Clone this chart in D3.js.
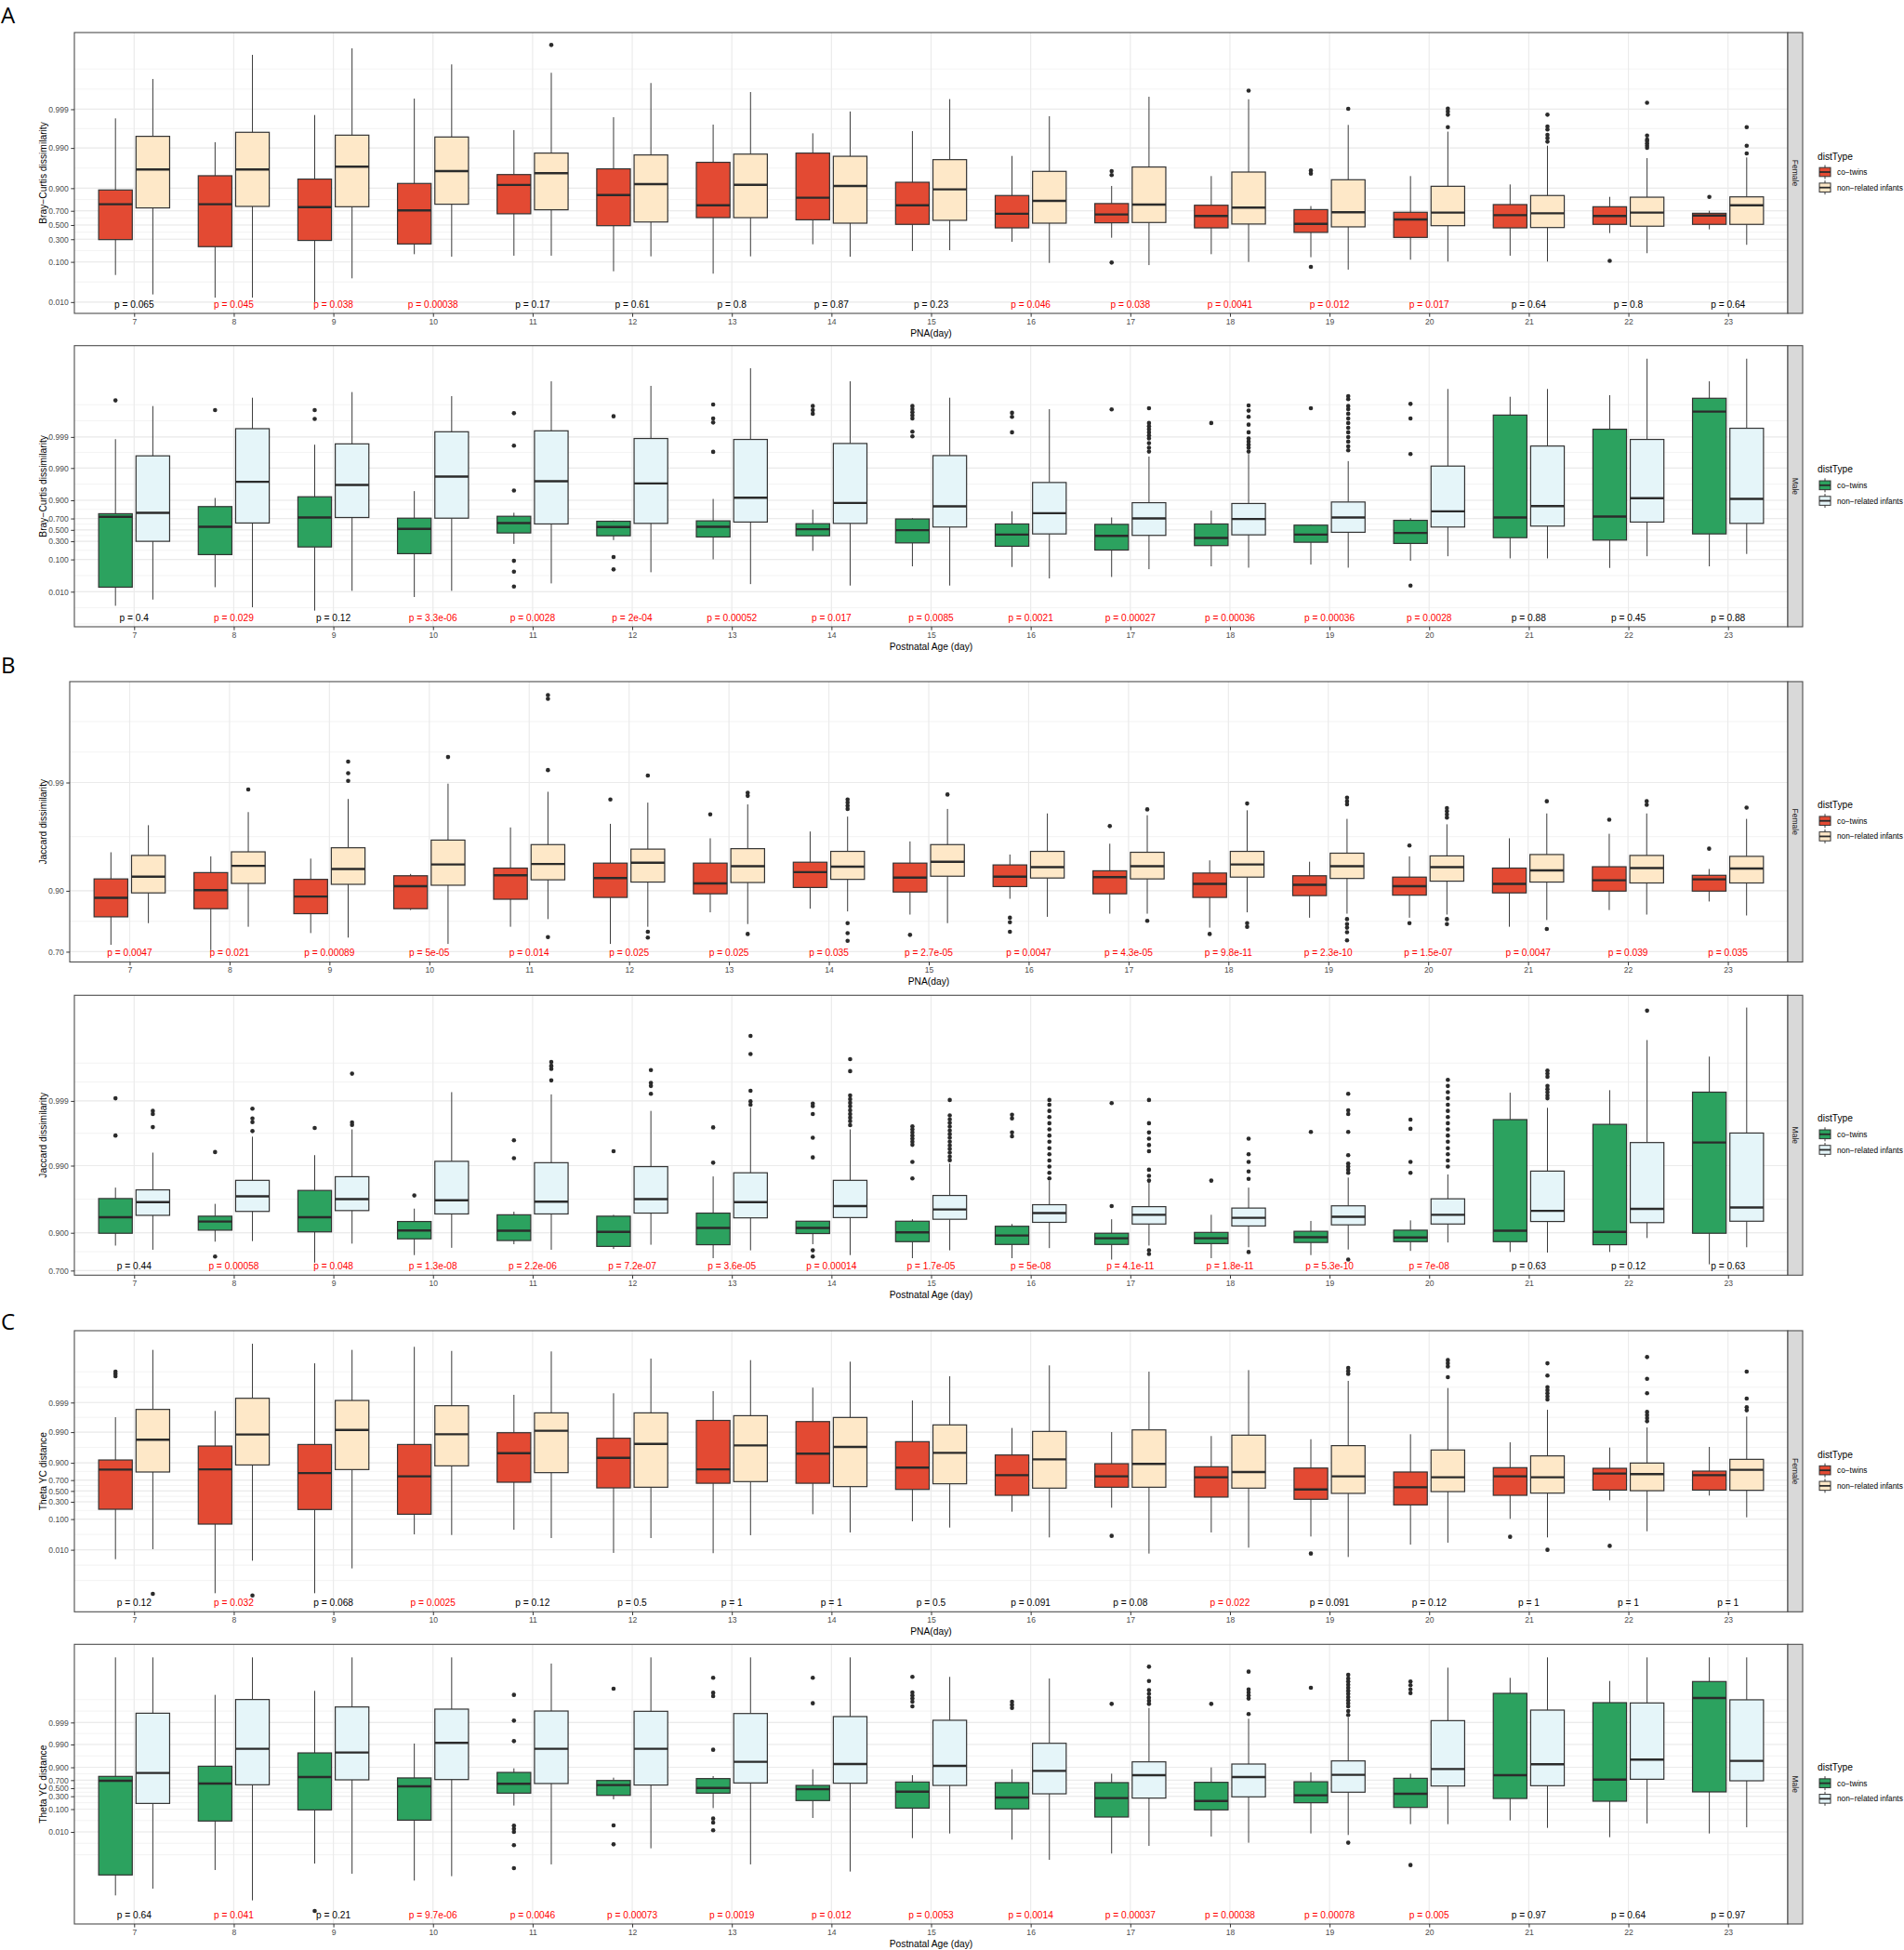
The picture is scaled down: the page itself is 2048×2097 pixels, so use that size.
<!DOCTYPE html>
<html><head><meta charset="utf-8">
<script src="https://cdn.jsdelivr.net/npm/d3@7"></script>
<style>body{margin:0;background:#fff}</style>
</head><body><svg id="c" width="2048" height="2097"></svg>
<script>
// ---------- data (box statistics in logit units: [lowerWhisker, Q1, median, Q3, upperWhisker]) ----------
const days = [7,8,9,10,11,12,13,14,15,16,17,18,19,20,21,22,23];
const groupLabels = ["co\u2212twins", "non\u2212related infants"];
const ticksWide = [0.01,0.1,0.3,0.5,0.7,0.9,0.99,0.999];
const tickLabelsWide = ["0.010","0.100","0.300","0.500","0.700","0.900","0.990","0.999"];
const ticksJacF = [0.7,0.9,0.99];
const tickLabelsJacF = ["0.70","0.90","0.99"];
const ticksJacM = [0.7,0.9,0.99,0.999];
const tickLabelsJacM = ["0.700","0.900","0.990","0.999"];

// A  Bray-Curtis, Female
const brayF_twins = [[-2.98,-0.87,1.24,2.09,6.36],[-4.33,-1.29,1.24,2.94,4.94],[-4.60,-0.92,1.07,2.74,6.56],[-1.74,-1.13,0.87,2.48,7.54],[-1.83,0.67,2.39,3.01,5.66],[-2.76,-0.04,1.79,3.35,6.43],[-2.90,0.44,1.18,3.74,5.99],[-1.15,0.31,1.63,4.29,5.47],[-1.55,0.04,1.18,2.55,5.60],[-1.00,-0.17,0.67,1.76,4.12],[-0.76,0.13,0.63,1.28,2.33],[-1.74,-0.17,0.54,1.18,2.92],[-1.92,-0.44,0.07,0.92,1.13],[-2.07,-0.74,0.33,0.76,2.92],[-1.83,-0.17,0.59,1.22,2.42],[-0.48,0.04,0.54,1.09,1.68],[-0.26,0.04,0.57,0.70,0.85]];
const brayF_twinsOut = [[],[],[],[],[],[],[],[],[],[],[3.22,2.98,-2.24],[],[3.25,3.07,-2.50],[],[],[-2.14],[1.68]];
const brayF_nonrel = [[-4.14,1.02,3.31,5.29,8.71],[-4.33,1.11,3.31,5.53,10.15],[-3.18,1.09,3.48,5.36,10.54],[-1.89,1.24,3.22,5.25,9.58],[-1.83,0.91,3.09,4.29,9.08],[-1.87,0.18,2.44,4.18,8.47],[-1.87,0.44,2.40,4.23,7.93],[-1.89,0.11,2.33,4.10,6.77],[-1.50,0.28,2.13,3.90,7.51],[-2.26,0.11,1.44,3.20,6.49],[-2.39,0.15,1.22,3.46,7.65],[-2.20,0.06,1.04,3.16,7.50],[-2.66,-0.11,0.76,2.70,5.97],[-2.18,-0.04,0.74,2.31,5.57],[-2.18,-0.15,0.70,1.76,4.73],[-1.68,-0.07,0.74,1.66,3.99],[-1.18,0.04,1.18,1.68,4.03]];
const brayF_nonrelOut = [[],[],[],[],[10.74],[],[],[],[],[],[],[8.01],[6.93],[6.95,6.77,6.58,5.84],[6.58,5.88,5.70,5.38,5.18,4.97],[7.29,5.34,5.10,5.01,4.87,4.73,4.60],[5.84,4.73,4.27]];
const brayF_p = ["0.065","0.045","0.038","0.00038","0.17","0.61","0.8","0.87","0.23","0.046","0.038","0.0041","0.012","0.017","0.64","0.8","0.64"];

// A  Bray-Curtis, Male
const brayM_twins = [[-5.64,-4.26,0.97,1.20,6.74],[-4.26,-1.84,0.23,1.73,2.37],[-6.00,-1.27,0.92,2.46,6.33],[-4.99,-1.77,0.07,0.87,2.88],[-1.04,-0.23,0.51,1.01,1.27],[-0.76,-0.44,0.21,0.64,0.69],[-2.19,-0.53,0.23,0.67,2.30],[-1.56,-0.44,0.05,0.46,1.50],[-2.71,-0.97,-0.02,0.81,0.87],[-2.76,-1.22,-0.35,0.44,1.38],[-3.50,-1.50,-0.44,0.41,0.92],[-2.71,-1.17,-0.60,0.44,1.43],[-2.58,-0.92,-0.35,0.35,0.41],[-2.30,-1.01,-0.23,0.71,0.87],[-2.12,-0.58,0.92,8.53,9.89],[-2.83,-0.76,0.99,7.48,10.01],[-2.71,-0.30,8.79,9.78,11.04]];
const brayM_twinsOut = [[9.62],[8.90],[8.90,8.24],[],[8.67,6.26,2.92,-2.30,-3.11,-4.21],[8.44,-2.02,-2.94],[9.32,8.28,7.98,5.80],[9.20,8.90,8.63],[9.20,8.97,8.74,8.51,8.28,7.29,6.95],[8.70,8.40,7.25],[8.95],[7.94],[9.04],[9.36,8.28,5.64,-4.14],[],[],[]];
const brayM_nonrel = [[-5.18,-0.85,1.27,5.50,9.20],[-5.75,0.51,3.57,7.52,9.82],[-4.53,0.92,3.34,6.39,10.24],[-4.53,0.87,3.96,7.29,9.94],[-3.98,0.44,3.61,7.36,11.04],[-3.15,0.48,3.45,6.79,10.70],[-4.03,0.58,2.39,6.72,12.01],[-4.14,0.48,2.00,6.42,11.04],[-4.14,0.21,1.75,5.52,9.82],[-3.61,-0.30,1.24,3.52,8.97],[-2.92,-0.41,0.85,2.02,5.45],[-2.81,-0.37,0.81,1.96,5.64],[-2.81,-0.18,0.92,2.07,5.11],[-1.96,0.21,1.38,4.74,10.47],[-2.12,0.28,1.77,6.23,10.47],[-1.96,0.58,2.35,6.72,12.72],[-1.79,0.48,2.30,7.55,12.72]];
const brayM_nonrelOut = [[],[],[],[],[],[],[],[],[],[],[9.04,7.94,7.71,7.48,7.25,7.02,6.79,6.44,6.10,5.82],[9.25,8.86,8.40,7.82,7.25,6.79,6.56,6.33,6.10,5.82],[9.94,9.71,9.20,8.97,8.63,8.28,7.94,7.59,7.25,6.90,6.56,6.21,5.91],[],[],[],[]];
const brayM_p = ["0.4","0.029","0.12","3.3e-06","0.0028","2e-04","0.00052","0.017","0.0085","0.0021","0.00027","0.00036","0.00036","0.0028","0.88","0.45","0.88"];

// B  Jaccard, Female
const jacF_twins = [[1.00,1.62,2.04,2.46,3.05],[0.88,1.80,2.21,2.60,2.96],[1.26,1.69,2.07,2.45,2.91],[1.77,1.80,2.30,2.53,2.57],[1.40,2.01,2.54,2.70,3.60],[1.02,2.05,2.48,2.81,3.68],[1.72,2.13,2.36,2.81,3.36],[1.80,2.27,2.61,2.83,3.51],[1.67,2.17,2.49,2.81,3.29],[2.02,2.29,2.51,2.77,3.00],[1.69,2.13,2.50,2.64,3.24],[1.38,2.05,2.35,2.59,2.87],[1.60,2.09,2.33,2.53,2.84],[1.60,2.10,2.30,2.50,2.96],[1.40,2.15,2.35,2.70,3.36],[1.77,2.19,2.43,2.73,3.46],[1.96,2.19,2.45,2.54,2.68]];
const jacF_twinsOut = [[],[],[],[],[],[4.22],[3.89],[],[1.22],[1.60,1.50,1.29],[3.63],[1.24],[],[3.20,1.48],[],[3.77],[3.13]];
const jacF_nonrel = [[1.48,2.15,2.51,2.98,3.65],[1.40,2.36,2.75,3.06,3.94],[1.16,2.34,2.68,3.15,4.23],[1.02,2.32,2.78,3.32,4.57],[1.57,2.44,2.79,3.22,4.39],[1.40,2.39,2.82,3.12,4.15],[1.46,2.38,2.74,3.13,4.11],[1.74,2.45,2.73,3.07,3.84],[1.48,2.52,2.84,3.22,4.01],[1.62,2.48,2.72,3.07,3.91],[1.69,2.46,2.74,3.05,3.87],[1.72,2.50,2.78,3.07,3.98],[1.69,2.47,2.74,3.03,3.79],[1.67,2.41,2.72,2.97,3.67],[1.55,2.39,2.65,3.00,3.91],[1.67,2.37,2.70,2.98,3.91],[1.65,2.37,2.69,2.96,3.79]];
const jacF_nonrelOut = [[],[4.44],[5.06,4.80,4.63],[5.16],[6.53,6.45,4.87,1.17],[4.75,1.29,1.16],[4.37,4.30,1.24],[4.22,4.15,4.08,4.01,1.48,1.26,1.09],[4.33],[],[4.00,1.53],[4.13,1.48,1.40],[4.26,4.18,4.11,1.57,1.46,1.38,1.28,1.10],[4.03,3.96,3.89,3.82,1.57,1.46],[4.18,1.35],[4.18,4.10],[4.04]];
const jacF_p = ["0.0047","0.021","0.00089","5e-05","0.014","0.025","0.025","0.035","2.7e-05","0.0047","4.3e-05","9.8e-11","2.3e-10","1.5e-07","0.0047","0.039","0.035"];

// B  Jaccard, Male
const jacM_twins = [[1.74,2.18,2.75,3.42,3.81],[1.88,2.29,2.60,2.79,3.23],[1.13,2.23,2.75,3.71,4.97],[1.40,1.98,2.28,2.60,3.06],[1.79,1.92,2.27,2.84,2.95],[1.62,1.71,2.23,2.79,2.84],[1.29,1.77,2.37,2.90,4.21],[1.79,2.17,2.37,2.61,2.62],[1.29,1.88,2.21,2.61,2.68],[1.29,1.78,2.10,2.43,2.51],[1.24,1.78,2.00,2.18,2.68],[1.29,1.81,2.00,2.21,2.84],[1.40,1.85,2.04,2.25,2.62],[1.55,1.88,2.03,2.29,2.64],[1.51,1.88,2.27,6.24,7.20],[1.51,1.77,2.23,6.07,7.29],[1.07,2.18,5.42,7.22,8.49]];
const jacM_twinsOut = [[7.00,5.67],[5.08,1.35],[5.94],[3.53],[5.50,4.86],[5.11],[5.96,4.70],[6.81,6.72,6.44,5.59,4.89,1.57,1.35],[6.00,5.89,5.78,5.67,5.56,5.45,5.34,4.73,4.14],[6.41,6.28,5.78,5.64],[6.83,3.15],[4.06],[5.80],[6.24,5.91,4.73,4.34],[],[],[]];
const jacM_nonrel = [[1.59,2.82,3.29,3.73,5.06],[1.90,2.96,3.50,4.07,5.63],[1.81,2.99,3.40,4.20,5.89],[1.66,2.87,3.36,4.75,7.22],[1.59,2.87,3.31,4.70,7.14],[1.77,2.90,3.40,4.56,6.55],[1.57,2.73,3.29,4.34,6.66],[1.40,2.74,3.15,4.07,5.89],[1.57,2.68,3.03,3.53,4.67],[1.65,2.57,2.90,3.20,4.06],[1.74,2.51,2.84,3.13,4.01],[1.68,2.44,2.73,3.08,3.81],[1.60,2.48,2.77,3.16,4.17],[1.85,2.51,2.84,3.41,4.28],[1.49,2.60,2.98,4.40,6.66],[2.01,2.56,3.05,5.42,9.08],[1.68,2.61,3.10,5.76,10.24]];
const jacM_nonrelOut = [[6.55,6.44,5.97],[6.63,6.28,6.15,5.83],[7.88,6.14,6.05],[],[8.30,8.16,8.05,7.64],[8.01,7.55,7.44,7.16],[9.23,8.58,7.27,6.89,6.77],[8.40,7.97,7.10,6.97,6.84,6.71,6.57,6.44,6.31,6.18,6.04],[6.94,6.39,6.25,6.12,5.99,5.85,5.72,5.59,5.45,5.32,5.19,5.06,4.92,4.79],[6.94,6.77,6.55,6.33,6.11,5.89,5.67,5.45,5.22,5.00,4.78,4.56,4.34,4.14],[6.94,6.11,5.78,5.56,5.33,5.11,4.45,4.23,4.06,1.57,1.44],[5.56,5.00,4.73,4.39,4.12,1.51],[7.16,6.57,6.44,5.80,4.97,4.67,4.56,4.45,4.34,1.24],[7.66,7.44,7.22,7.00,6.77,6.55,6.33,6.11,5.89,5.67,5.45,5.22,5.00,4.78,4.56],[7.99,7.88,7.77,7.44,7.33,7.22,7.10,7.00],[10.13],[]];
const jacM_p = ["0.44","0.00058","0.048","1.3e-08","2.2e-06","7.2e-07","3.6e-05","0.00014","1.7e-05","5e-08","4.1e-11","1.8e-11","5.3e-10","7e-08","0.63","0.12","0.63"];

// C  Theta YC, Female
const thetaF_twins = [[-5.33,-1.43,1.67,2.42,5.76],[-7.99,-2.59,1.69,3.51,6.25],[-7.99,-1.45,1.40,3.63,9.97],[-3.39,-1.82,1.14,3.63,11.26],[-3.03,0.68,2.95,4.55,7.51],[-4.84,0.24,2.59,4.12,7.63],[-4.86,0.60,1.69,5.51,7.80],[-1.82,0.60,2.91,5.42,8.07],[-2.37,0.12,1.82,3.85,7.07],[-1.62,-0.34,1.23,2.81,4.92],[-1.31,0.29,1.14,2.13,4.60],[-3.24,-0.48,1.07,1.89,4.29],[-3.56,-0.65,0.12,1.79,4.04],[-4.19,-1.09,0.29,1.48,4.43],[-2.18,-0.34,1.14,1.82,3.80],[-0.73,0.07,1.36,1.77,3.39],[-0.36,0.07,1.23,1.55,3.44]];
const thetaF_twinsOut = [[9.32,9.15,8.96],[],[],[],[],[],[],[],[],[],[-3.51],[],[-4.89],[],[-3.58],[-4.29],[]];
const thetaF_nonrel = [[-4.55,1.48,4.00,6.37,11.02],[-5.45,2.03,4.41,7.24,11.50],[-6.05,1.67,4.77,7.07,11.02],[-3.44,1.96,4.43,6.66,10.94],[-3.68,1.43,4.70,6.10,10.90],[-3.68,0.29,3.68,6.10,10.34],[-3.46,0.73,3.56,5.88,10.22],[-3.24,0.34,3.44,5.74,10.10],[-2.86,0.56,2.98,5.16,8.96],[-3.63,0.22,2.47,4.65,9.81],[-4.89,0.29,2.11,4.77,9.32],[-4.43,0.22,1.48,4.36,9.44],[-5.16,-0.19,1.14,3.54,8.60],[-4.04,-0.05,1.07,3.20,8.04],[-3.63,-0.17,1.07,2.74,6.34],[-3.15,0.02,1.31,2.18,4.96],[-2.06,0.05,1.65,2.47,5.81]];
const thetaF_nonrelOut = [[-8.04],[-8.16],[],[],[],[],[],[],[],[],[],[],[9.61,9.37,9.15],[10.22,9.97,9.73,8.89],[9.97,9.01,8.11,7.87,7.63,7.38,7.14,-4.60],[10.46,8.76,7.63,6.17,5.93,5.69,5.45],[9.32,7.22,6.54,6.30]];
const thetaF_p = ["0.12","0.032","0.068","0.0025","0.12","0.5","1","1","0.5","0.091","0.08","0.022","0.091","0.12","1","1","1"];

// C  Theta YC, Male
const thetaM_twins = [[-11.27,-9.12,0.78,1.24,13.75],[-8.60,-3.45,0.49,2.31,9.81],[-7.92,-2.28,1.17,3.71,10.23],[-9.71,-3.36,0.20,1.08,4.69],[-1.82,-0.52,0.46,1.66,2.09],[-1.17,-0.75,0.33,0.81,1.11],[-2.09,-0.52,0.03,1.01,1.27],[-3.13,-1.30,-0.10,0.29,1.99],[-5.25,-2.09,-0.36,0.65,1.37],[-5.41,-2.18,-0.98,0.59,1.99],[-6.87,-3.03,-1.04,0.59,1.53],[-5.08,-2.28,-1.34,0.62,2.18],[-4.76,-1.53,-0.75,0.68,1.66],[-3.78,-2.02,-0.59,1.04,1.53],[-3.39,-1.08,1.37,9.97,11.60],[-5.15,-1.37,0.91,8.99,11.27],[-4.76,-0.39,9.48,11.21,13.75]];
const thetaM_twinsOut = [[],[],[-12.90],[],[9.81,7.10,4.95,-3.94,-4.27,-4.59,-5.99,-8.41],[10.46,-3.91,-5.90],[11.60,10.03,9.68,4.04,-3.19,-3.62,-4.43],[11.60,8.93],[11.70,10.07,9.74,9.42,9.09,8.60],[9.09,8.76,8.44],[8.86],[8.86],[10.56],[11.21,10.82,10.39,10.00,-8.08],[],[],[]];
const thetaM_nonrel = [[-10.56,-1.60,1.60,7.88,13.75],[-11.79,0.36,4.14,9.32,13.75],[-8.99,0.88,3.75,8.54,13.75],[-9.25,0.91,4.76,8.31,13.75],[-8.01,0.49,4.14,8.11,13.10],[-6.32,0.33,4.14,8.08,13.75],[-8.01,0.55,2.77,7.85,13.75],[-8.76,0.52,2.54,7.53,13.75],[-4.76,0.29,2.35,7.14,11.70],[-7.53,-0.59,1.82,4.72,11.53],[-6.06,-1.04,1.37,2.77,8.44],[-5.73,-0.91,1.17,2.54,7.30],[-4.92,-0.42,1.40,2.87,7.46],[-3.78,0.23,2.02,7.10,12.67],[-4.17,0.26,2.51,8.21,13.75],[-3.71,0.94,3.00,8.96,13.75],[-4.11,0.78,2.87,9.29,13.75]];
const thetaM_nonrelOut = [[],[],[],[],[],[],[],[],[],[],[12.77,11.27,10.30,9.91,9.51,9.19,8.86],[12.25,10.39,10.07,9.74,9.42,7.79],[11.92,11.53,11.21,10.88,10.56,10.23,9.91,9.58,9.25,8.93,8.60,8.11,7.69,-5.73],[],[],[],[]];
const thetaM_p = ["0.64","0.041","0.21","9.7e-06","0.0046","0.00073","0.0019","0.012","0.0053","0.0014","0.00037","0.00038","0.00078","0.005","0.97","0.64","0.97"];

// ---------- layout / styles ----------
const femaleColors = ["#E34A33", "#FEE8C8"];
const maleColors = ["#2CA25F", "#E5F5F9"];
const panels = [
  {top:35, bottom:337, left:80, domain:[-5.27,11.48], ticks:ticksWide, labels:tickLabelsWide, yTitle:"Bray\u2212Curtis dissimilarity", xTitle:"PNA(day)", strip:"Female", colors:femaleColors, twins:brayF_twins, twinsOut:brayF_twinsOut, nonrel:brayF_nonrel, nonrelOut:brayF_nonrelOut, p:brayF_p},
  {top:371.7, bottom:674, left:80, domain:[-7.2,13.69], ticks:ticksWide, labels:tickLabelsWide, yTitle:"Bray\u2212Curtis dissimilarity", xTitle:"Postnatal Age (day)", strip:"Male", colors:maleColors, twins:brayM_twins, twinsOut:brayM_twinsOut, nonrel:brayM_nonrel, nonrelOut:brayM_nonrelOut, p:brayM_p},
  {top:733, bottom:1034.5, left:75, domain:[0.62,6.83], ticks:ticksJacF, labels:tickLabelsJacF, yTitle:"Jaccard dissimilarity", xTitle:"PNA(day)", strip:"Female", colors:femaleColors, twins:jacF_twins, twinsOut:jacF_twinsOut, nonrel:jacF_nonrel, nonrelOut:jacF_nonrelOut, p:jacF_p},
  {top:1070.3, bottom:1371.3, left:80, domain:[0.683,10.68], ticks:ticksJacM, labels:tickLabelsJacM, yTitle:"Jaccard dissimilarity", xTitle:"Postnatal Age (day)", strip:"Male", colors:maleColors, twins:jacM_twins, twinsOut:jacM_twinsOut, nonrel:jacM_nonrel, nonrelOut:jacM_nonrelOut, p:jacM_p},
  {top:1431, bottom:1733.3, left:80, domain:[-9.44,12.52], ticks:ticksWide, labels:tickLabelsWide, yTitle:"Theta YC distance", xTitle:"PNA(day)", strip:"Female", colors:femaleColors, twins:thetaF_twins, twinsOut:thetaF_twinsOut, nonrel:thetaF_nonrel, nonrelOut:thetaF_nonrelOut, p:thetaF_p},
  {top:1768.3, bottom:2069, left:80, domain:[-14.27,15.12], ticks:ticksWide, labels:tickLabelsWide, yTitle:"Theta YC distance", xTitle:"Postnatal Age (day)", strip:"Male", colors:maleColors, twins:thetaM_twins, twinsOut:thetaM_twinsOut, nonrel:thetaM_nonrel, nonrelOut:thetaM_nonrelOut, p:thetaM_p}
];
const letters = [{t:"A", y:25}, {t:"B", y:724}, {t:"C", y:1430}];

const RIGHT = 1923, STRIP_W = 16;
const FONT = "'Liberation Sans', Arial, Helvetica, sans-serif";
const logit = p => Math.log(p / (1 - p));
const svg = d3.select("#c");
svg.append("rect").attr("width", 2048).attr("height", 2097).attr("fill", "#fff");

function minorBreaks(b, dom) {
  b = b.slice();
  const bd = b[1] - b[0];
  if (dom[0] < b[0]) b.unshift(b[0] - bd);
  if (dom[1] > b[b.length - 1]) b.push(b[b.length - 1] + bd);
  const out = [];
  for (let i = 0; i < b.length - 1; i++) out.push(b[i], (b[i] + b[i + 1]) / 2);
  out.push(b[b.length - 1]);
  return out.filter(v => v >= dom[0] && v <= dom[1]);
}

function drawPanel(cfg) {
  const g = svg.append("g");
  const x = d3.scalePoint().domain(days).range([cfg.left, RIGHT]).padding(0.6);
  const y = d3.scaleLinear().domain(cfg.domain).range([cfg.bottom, cfg.top]);
  const step = x.step();
  const majors = cfg.ticks.map(logit);

  g.append("rect").attr("x", cfg.left).attr("y", cfg.top).attr("width", RIGHT - cfg.left).attr("height", cfg.bottom - cfg.top).attr("fill", "#fff");
  g.selectAll(null).data(minorBreaks(majors, cfg.domain)).join("line")
    .attr("x1", cfg.left).attr("x2", RIGHT).attr("y1", d => y(d)).attr("y2", d => y(d))
    .attr("stroke", "#ebebeb").attr("stroke-width", 0.6);
  g.selectAll(null).data(majors).join("line")
    .attr("x1", cfg.left).attr("x2", RIGHT).attr("y1", d => y(d)).attr("y2", d => y(d))
    .attr("stroke", "#ebebeb").attr("stroke-width", 1.2);
  g.selectAll(null).data(days).join("line")
    .attr("x1", d => x(d)).attr("x2", d => x(d)).attr("y1", cfg.top).attr("y2", cfg.bottom)
    .attr("stroke", "#ebebeb").attr("stroke-width", 1.2);

  const series = [
    {stats: cfg.twins, outs: cfg.twinsOut, fill: cfg.colors[0], side: -1},
    {stats: cfg.nonrel, outs: cfg.nonrelOut, fill: cfg.colors[1], side: 1}
  ];
  const bw = 0.3375 * step;
  series.forEach(s => {
    const cx = i => x(days[i]) + s.side * 0.1875 * step;
    const rows = s.stats.map((d, i) => ({d, i}));
    const bg = g.append("g");
    bg.selectAll(null).data(rows).join("line")
      .attr("x1", r => cx(r.i)).attr("x2", r => cx(r.i))
      .attr("y1", r => y(r.d[3])).attr("y2", r => y(r.d[4]))
      .attr("stroke", "#3a3a3a").attr("stroke-width", 1);
    bg.selectAll(null).data(rows).join("line")
      .attr("x1", r => cx(r.i)).attr("x2", r => cx(r.i))
      .attr("y1", r => y(r.d[1])).attr("y2", r => y(r.d[0]))
      .attr("stroke", "#3a3a3a").attr("stroke-width", 1);
    bg.selectAll(null).data(rows).join("rect")
      .attr("x", r => cx(r.i) - bw / 2).attr("width", bw)
      .attr("y", r => y(r.d[3])).attr("height", r => Math.max(0.5, y(r.d[1]) - y(r.d[3])))
      .attr("fill", s.fill).attr("stroke", "#333").attr("stroke-width", 1.2);
    bg.selectAll(null).data(rows).join("line")
      .attr("x1", r => cx(r.i) - bw / 2).attr("x2", r => cx(r.i) + bw / 2)
      .attr("y1", r => y(r.d[2])).attr("y2", r => y(r.d[2]))
      .attr("stroke", "#2b2b2b").attr("stroke-width", 2.4);
    const pts = [];
    s.outs.forEach((arr, i) => arr.forEach(v => pts.push({i, v})));
    bg.selectAll(null).data(pts).join("circle")
      .attr("cx", p => cx(p.i)).attr("cy", p => y(p.v)).attr("r", 2.3).attr("fill", "#2b2b2b");
  });

  // p-values
  g.selectAll(null).data(cfg.p).join("text")
    .attr("x", (d, i) => x(days[i])).attr("y", cfg.bottom - 6.5)
    .attr("text-anchor", "middle").attr("font-family", FONT).attr("font-size", 10.2)
    .attr("fill", d => (+d < 0.05 ? "#ff0000" : "#000000"))
    .text(d => "p = " + d);

  // border
  g.append("rect").attr("x", cfg.left).attr("y", cfg.top).attr("width", RIGHT - cfg.left).attr("height", cfg.bottom - cfg.top)
    .attr("fill", "none").attr("stroke", "#4d4d4d").attr("stroke-width", 1.1);

  // axes
  const ya = g.append("g").attr("transform", `translate(${cfg.left},0)`)
    .call(d3.axisLeft(y).tickValues(majors).tickFormat((d, i) => cfg.labels[i]).tickSize(3.7).tickPadding(2.5));
  const xa = g.append("g").attr("transform", `translate(0,${cfg.bottom})`)
    .call(d3.axisBottom(x).tickSize(3.7).tickPadding(2));
  [ya, xa].forEach(a => {
    a.select(".domain").remove();
    a.selectAll(".tick line").attr("stroke", "#333").attr("stroke-width", 1);
    a.selectAll(".tick text").attr("fill", "#4d4d4d").attr("font-family", FONT).attr("font-size", 8.6);
  });

  // axis titles
  const cy = (cfg.top + cfg.bottom) / 2;
  g.append("text").attr("transform", `translate(49.5,${cy}) rotate(-90)`)
    .attr("text-anchor", "middle").attr("font-family", FONT).attr("font-size", 10.25).attr("fill", "#000")
    .text(cfg.yTitle);
  g.append("text").attr("x", (cfg.left + RIGHT) / 2).attr("y", cfg.bottom + 24.5)
    .attr("text-anchor", "middle").attr("font-family", FONT).attr("font-size", 10.25).attr("fill", "#000")
    .text(cfg.xTitle);

  // strip
  g.append("rect").attr("x", RIGHT).attr("y", cfg.top).attr("width", STRIP_W).attr("height", cfg.bottom - cfg.top)
    .attr("fill", "#d9d9d9").attr("stroke", "#4d4d4d").attr("stroke-width", 1.1);
  g.append("text").attr("transform", `translate(${RIGHT + STRIP_W / 2 - 3},${cy}) rotate(90)`)
    .attr("text-anchor", "middle").attr("font-family", FONT).attr("font-size", 8.5).attr("fill", "#1a1a1a")
    .text(cfg.strip);

  // legend
  const lg = g.append("g");
  lg.append("text").attr("x", 1955).attr("y", cy - 14.5).attr("font-family", FONT).attr("font-size", 10.2).attr("fill", "#000").text("distType");
  const keyY = [cy - 1, cy + 15.7];
  lg.selectAll(null).data(groupLabels).join("g").each(function(lab, k) {
    const kg = d3.select(this);
    const ky = keyY[k];
    kg.append("line").attr("x1", 1963).attr("x2", 1963).attr("y1", ky - 7.5).attr("y2", ky + 7.5).attr("stroke", "#3a3a3a").attr("stroke-width", 1);
    kg.append("rect").attr("x", 1957).attr("y", ky - 4.8).attr("width", 12).attr("height", 9.6).attr("fill", cfg.colors[k]).attr("stroke", "#333").attr("stroke-width", 1);
    kg.append("line").attr("x1", 1957).attr("x2", 1969).attr("y1", ky).attr("y2", ky).attr("stroke", "#2b2b2b").attr("stroke-width", 1.8);
    kg.append("text").attr("x", 1976).attr("y", ky + 3).attr("font-family", FONT).attr("font-size", 8.3).attr("fill", "#000").text(lab);
  });
}

panels.forEach(drawPanel);

svg.selectAll(null).data(letters).join("text")
  .attr("x", 1).attr("y", d => d.y)
  .attr("font-family", "'Open Sans', 'DejaVu Sans', sans-serif").attr("font-size", 24).attr("fill", "#000")
  .text(d => d.t);
</script>
</body></html>
